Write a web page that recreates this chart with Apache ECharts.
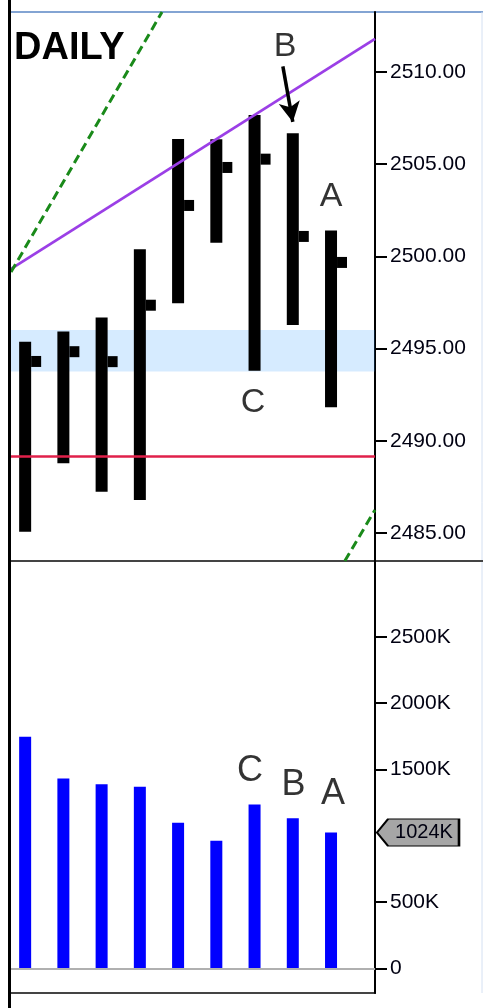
<!DOCTYPE html>
<html>
<head>
<meta charset="utf-8">
<script src="https://cdn.jsdelivr.net/npm/echarts@6/dist/echarts.min.js"></script>
<style>
html,body{margin:0;padding:0;background:#fff;}
#main{width:483px;height:1008px;}
</style>
</head>
<body>
<div id="main"></div>
<script>
// daily bars, x = bar index
var days = [0, 1, 2, 3, 4, 5, 6, 7, 8];
var highs = [2495.37, 2495.92, 2496.68, 2500.38, 2506.37, 2506.35, 2507.67, 2506.67, 2501.40];
var lows = [2485.07, 2488.78, 2487.24, 2486.79, 2497.46, 2500.74, 2493.80, 2496.28, 2491.82];
var closes = [2494.30, 2494.83, 2494.29, 2497.35, 2502.76, 2504.82, 2505.27, 2501.08, 2499.67];
var volumes = [1746, 1432, 1387, 1369, 1098, 962, 1236, 1131, 1024]; // K

var priceTicks = [2485, 2490, 2495, 2500, 2505, 2510];
var volShownTicks = [0, 500, 1500, 2000, 2500];

var purpleLine = [[-0.37, 2499.32], [9.15, 2511.79]];
var greenLine1 = [[-0.37, 2499.15], [3.58, 2513.25]];
var greenLine2 = [[8.36, 2483.48], [9.15, 2486.25]];
var redLevel = 2489.18;
var band = [2496.0, 2493.75];
var arrowFrom = [6.74, 2510.3];
var arrowTo = [7.0, 2507.29];
var lastVol = 1024;

var topNotes = [['B', 6.80, 2511.36], ['A', 8.0, 2503.22], ['C', 5.96, 2492.05]];
var volNotes = [['C', 5.88, 1490], ['B', 7.02, 1382], ['A', 8.05, 1310]];

var xMin = -0.37, xMax = 9.15;
var font = "Arial, 'Liberation Sans', sans-serif";

var ohlc = [], vols = [];
for (var i = 0; i < days.length; i++) {
    ohlc.push([days[i], highs[i], lows[i], closes[i]]);
    vols.push([days[i], volumes[i]]);
}

function notes(arr) {
    var out = [];
    for (var i = 0; i < arr.length; i++) {
        out.push({name: arr[i][0], value: [arr[i][1], arr[i][2]]});
    }
    return out;
}

var chart = echarts.init(document.getElementById('main'));

var option = {
    animation: false,
    backgroundColor: '#fff',
    title: {
        text: 'DAILY',
        left: 14,
        top: 30,
        padding: 0,
        textStyle: {fontFamily: font, fontSize: 38, fontWeight: 'bold', color: '#000'}
    },
    grid: [
        {left: 11, right: 108, top: 12, bottom: 447},
        {left: 11, right: 108, top: 561, bottom: 15}
    ],
    xAxis: [
        {type: 'value', gridIndex: 0, min: xMin, max: xMax, show: false},
        {type: 'value', gridIndex: 1, min: xMin, max: xMax, show: false}
    ],
    yAxis: [
        {
            type: 'value', gridIndex: 0, position: 'right', min: 2483.48, max: 2513.25,
            splitLine: {show: false},
            axisLine: {show: true, onZero: false, lineStyle: {color: '#000', width: 2}},
            axisTick: {show: true, length: 12, lineStyle: {color: '#000', width: 2}, customValues: priceTicks},
            axisLabel: {
                margin: 15, fontFamily: font, fontSize: 21, color: '#000011',
                customValues: priceTicks,
                formatter: function (v) { return v.toFixed(2); }
            }
        },
        {
            type: 'value', gridIndex: 1, position: 'right', min: -186, max: 3071,
            splitLine: {show: false},
            axisLine: {show: true, onZero: false, lineStyle: {color: '#000', width: 2}},
            axisTick: {show: true, length: 12, lineStyle: {color: '#000', width: 2}, customValues: volShownTicks},
            axisLabel: {
                margin: 15, fontFamily: font, fontSize: 21, color: '#000011',
                customValues: volShownTicks,
                formatter: function (v) { return v === 0 ? '0' : v + 'K'; }
            }
        }
    ],
    series: [
        {
            type: 'custom',
            xAxisIndex: 0, yAxisIndex: 0,
            z: 2,
            data: ohlc,
            renderItem: function (params, api) {
                var x = api.value(0);
                var hi = api.coord([x, api.value(1)]);
                var lo = api.coord([x, api.value(2)]);
                var cl = api.coord([x, api.value(3)]);
                return {
                    type: 'group',
                    children: [
                        {type: 'rect', shape: {x: hi[0] - 6, y: hi[1], width: 12, height: lo[1] - hi[1]}, style: {fill: '#000'}},
                        {type: 'rect', shape: {x: hi[0] + 6, y: cl[1] - 5.5, width: 10, height: 11}, style: {fill: '#000'}}
                    ]
                };
            }
        },
        {
            type: 'line',
            xAxisIndex: 0, yAxisIndex: 0,
            z: 4,
            data: purpleLine,
            symbol: 'none',
            lineStyle: {color: '#9b3fe6', width: 2.8},
            markArea: {
                silent: true,
                itemStyle: {color: 'rgba(50,155,255,0.2)'},
                data: [[{yAxis: band[0]}, {yAxis: band[1]}]]
            },
            markLine: {
                silent: true,
                symbol: 'none',
                label: {show: false},
                lineStyle: {color: '#e0204a', width: 2.5, type: 'solid'},
                data: [{yAxis: redLevel}]
            }
        },
        {
            type: 'line',
            xAxisIndex: 0, yAxisIndex: 0,
            z: 4,
            data: greenLine1,
            symbol: 'none',
            lineStyle: {color: '#1a8a1a', width: 3, type: [9, 5]}
        },
        {
            type: 'line',
            xAxisIndex: 0, yAxisIndex: 0,
            z: 4,
            data: greenLine2,
            symbol: 'none',
            lineStyle: {color: '#1a8a1a', width: 3, type: [9, 5]},
            markLine: {
                silent: true,
                symbol: ['none', 'arrow'],
                symbolSize: [16, 20],
                label: {show: false},
                lineStyle: {color: '#000', width: 3.5, type: 'solid'},
                data: [[{coord: arrowFrom}, {coord: arrowTo}]]
            }
        },
        {
            type: 'scatter',
            xAxisIndex: 0, yAxisIndex: 0,
            z: 5,
            symbolSize: 1,
            itemStyle: {color: 'transparent'},
            label: {show: true, position: 'inside', formatter: '{b}', fontFamily: font, fontSize: 34, color: '#000'},
            data: notes(topNotes)
        },
        {
            type: 'bar',
            xAxisIndex: 1, yAxisIndex: 1,
            barWidth: 12,
            itemStyle: {color: '#0000ff'},
            data: vols,
            markLine: {
                silent: true,
                symbol: 'none',
                label: {show: false},
                lineStyle: {color: '#b0b0b0', width: 2, type: 'solid'},
                data: [{yAxis: 0}]
            },
            markPoint: {
                silent: true,
                symbol: 'path://M0,13.5L11,0L81,0L81,27L11,27Z',
                symbolSize: [82, 27],
                symbolOffset: [43, 0],
                itemStyle: {color: '#a6a6a6', borderColor: '#000', borderWidth: 1.5},
                label: {
                    show: true, position: 'inside', offset: [6, 0],
                    fontFamily: font, fontSize: 20, color: '#000011',
                    formatter: lastVol + 'K'
                },
                data: [{coord: [xMax, lastVol]}]
            }
        },
        {
            type: 'scatter',
            xAxisIndex: 1, yAxisIndex: 1,
            z: 5,
            symbolSize: 1,
            itemStyle: {color: 'transparent'},
            label: {show: true, position: 'inside', formatter: '{b}', fontFamily: font, fontSize: 36, color: '#000'},
            data: notes(volNotes)
        }
    ],
    graphic: [
        {type: 'rect', shape: {x: 8, y: 0, width: 3, height: 1008}, style: {fill: '#000'}, z: 100},
        {type: 'line', shape: {x1: 11, y1: 12, x2: 483, y2: 12}, style: {stroke: '#5a86c4', lineWidth: 1.5}},
        {type: 'line', shape: {x1: 482, y1: 12, x2: 482, y2: 993}, style: {stroke: '#d4e0f2', lineWidth: 1}},
        {type: 'line', shape: {x1: 11, y1: 561, x2: 483, y2: 561}, style: {stroke: '#444', lineWidth: 2}},
        {type: 'line', shape: {x1: 11, y1: 993, x2: 376, y2: 993}, style: {stroke: '#444', lineWidth: 2}}
    ]
};

chart.setOption(option);
</script>
</body>
</html>
